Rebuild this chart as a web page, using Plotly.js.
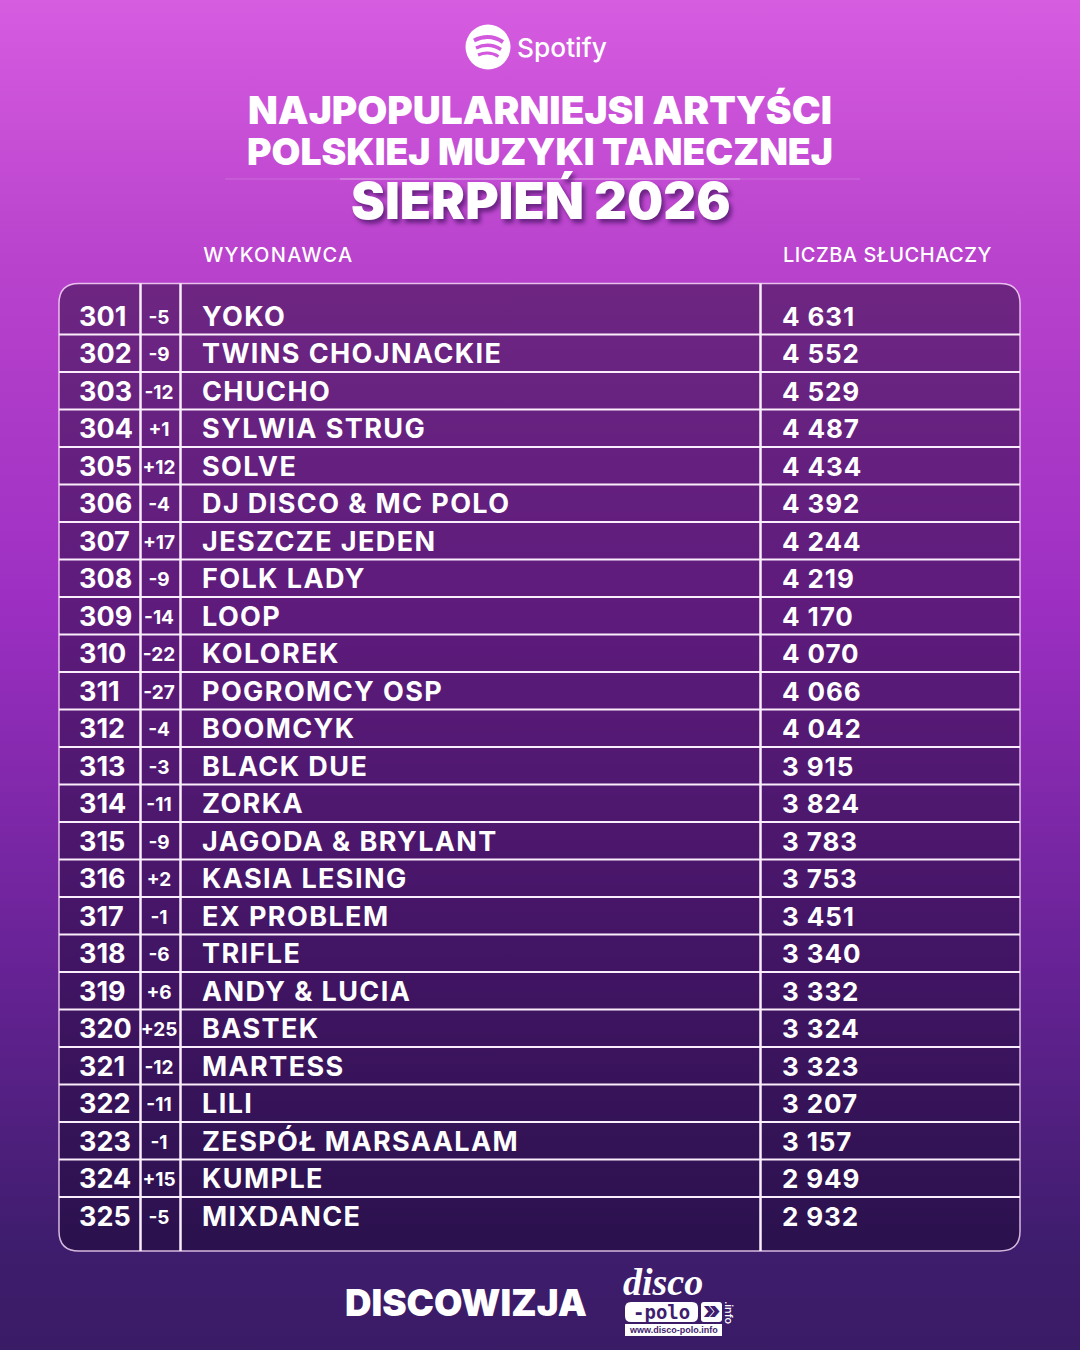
<!DOCTYPE html>
<html>
<head>
<meta charset="utf-8">
<script src="https://cdn.plot.ly/plotly-3.0.1.min.js"></script>
<style>
  html, body { margin: 0; padding: 0; }
  body {
    width: 1080px; height: 1350px; overflow: hidden;
    background: linear-gradient(180deg, #d65ce0 0%, #b842cc 20%, #9c2fc2 45%, #6a2398 70%, #3f1d6e 92%, #3a1b66 100%);
  }
  /* the reference face is wider than Inter, so the table text gets some tracking */
  .scatterlayer .trace:nth-child(3) .textpoint text { letter-spacing: 1.4px; }
  .scatterlayer .trace:nth-child(4) .textpoint text { letter-spacing: 0.9px; }
  .annotation[data-index="4"] text { letter-spacing: 1.3px; }
  .annotation[data-index="5"] text { letter-spacing: 0.5px; }
  .annotation[data-index="7"] text, .annotation[data-index="7"] tspan { font-style: italic !important; }
</style>
</head>
<body>
<div id="chart"></div>
<script>
var ranks = [301, 302, 303, 304, 305, 306, 307, 308, 309, 310, 311, 312, 313, 314, 315, 316, 317, 318, 319, 320, 321, 322, 323, 324, 325];
var changes = ["-5", "-9", "-12", "+1", "+12", "-4", "+17", "-9", "-14", "-22", "-27", "-4", "-3", "-11", "-9", "+2", "-1", "-6", "+6", "+25", "-12", "-11", "-1", "+15", "-5"];
var artists = ["YOKO", "TWINS CHOJNACKIE", "CHUCHO", "SYLWIA STRUG", "SOLVE", "DJ DISCO & MC POLO", "JESZCZE JEDEN", "FOLK LADY", "LOOP", "KOLOREK", "POGROMCY OSP", "BOOMCYK", "BLACK DUE", "ZORKA", "JAGODA & BRYLANT", "KASIA LESING", "EX PROBLEM", "TRIFLE", "ANDY & LUCIA", "BASTEK", "MARTESS", "LILI", "ZESPÓŁ MARSAALAM", "KUMPLE", "MIXDANCE"];
var listeners = ["4 631", "4 552", "4 529", "4 487", "4 434", "4 392", "4 244", "4 219", "4 170", "4 070", "4 066", "4 042", "3 915", "3 824", "3 783", "3 753", "3 451", "3 340", "3 332", "3 324", "3 323", "3 207", "3 157", "2 949", "2 932"];

var FONT = "Inter, sans-serif";
var W = 1080, H = 1350;
var ROW = 37.5;
var RANK_TOP = 319.2;      // pixel of rank 301 on the y axis
var LINE_OFFSET = 0.408;   // separator below a rank, in rank units

// y pixel (from the top) -> paper fraction
function py(px) { return 1 - px / H; }

function column(x, labels, size, position) {
  return {
    type: "scatter",
    mode: "text",
    x: ranks.map(function () { return x; }),
    y: ranks,
    text: labels,
    textposition: position,
    textfont: { family: FONT, size: size, color: "#ffffff", weight: 700 },
    cliponaxis: false,
    hoverinfo: "skip",
    showlegend: false
  };
}

var traces = [
  column(79, ranks.map(String), 27, "middle right"),
  column(159, changes, 19, "middle center"),
  column(202, artists, 27, "middle right"),
  column(782, listeners, 26, "middle right")
];

function label(x, y, text, size, weight, extra) {
  var a = {
    xref: "x", yref: "paper", x: x, y: py(y), text: text, showarrow: false,
    xanchor: "center", yanchor: "middle",
    font: { family: FONT, size: size, color: "#ffffff", weight: weight }
  };
  for (var k in extra) a[k] = extra[k];
  return a;
}

var annotations = [
  label(562, 47, "Spotify", 26.3, 500),
  label(540, 109.5, "NAJPOPULARNIEJSI ARTYŚCI", 38.8, 900),
  label(540, 152, "POLSKIEJ MUZYKI TANECZNEJ", 37.3, 900),
  label(541, 201, "SIERPIEŃ 2026", 51, 900, {
    font: { family: FONT, size: 51, color: "#ffffff", weight: 900, shadow: "3px 4px 4px rgba(50,10,80,0.6)" }
  }),
  label(207, 255, "WYKONAWCA", 20, 500, { xanchor: "left" }),
  label(785, 255, "LICZBA SŁUCHACZY", 20, 500, { xanchor: "left" }),
  label(466, 1302, "DISCOWIZJA", 36.7, 900),
  label(663, 1282, "<i>disco</i>", 38, 700, {
    font: { family: "Liberation Serif", size: 38, color: "#ffffff", weight: 700 }
  }),
  label(661, 1312, "-polo", 19, 700, {
    font: { family: "DejaVu Sans Mono", size: 19, color: "#3f1d6e", weight: 700 }
  }),
  label(711.5, 1310, "»", 24, 900, { font: { family: FONT, size: 24, color: "#3f1d6e", weight: 900 } }),
  label(673, 1330, "www.disco-polo.info", 9, 700, {
    font: { family: "Liberation Sans", size: 9, color: "#3f1d6e", weight: 700 }
  }),
  label(729, 1313, ".info", 11, 500, { textangle: 90 })
];

function roundedRect(x0, y0, x1, y1, r) {
  return "M " + (x0 + r) + " " + py(y0) +
    " L " + (x1 - r) + " " + py(y0) + " Q " + x1 + " " + py(y0) + " " + x1 + " " + py(y0 + r) +
    " L " + x1 + " " + py(y1 - r) + " Q " + x1 + " " + py(y1) + " " + (x1 - r) + " " + py(y1) +
    " L " + (x0 + r) + " " + py(y1) + " Q " + x0 + " " + py(y1) + " " + x0 + " " + py(y1 - r) +
    " L " + x0 + " " + py(y0 + r) + " Q " + x0 + " " + py(y0) + " " + (x0 + r) + " " + py(y0) + " Z";
}

var shapes = [
  // panel
  {
    type: "path", xref: "x", yref: "paper", path: roundedRect(59, 283.5, 1020, 1251, 20),
    fillcolor: "rgba(20,5,40,0.45)", line: { color: "rgba(255,225,255,0.8)", width: 1.5 }, layer: "below"
  },
  // rule under the title, fading out to the sides
  {
    type: "line", xref: "x", yref: "paper", x0: 225, x1: 860, y0: py(179), y1: py(179),
    line: { color: "rgba(255,255,255,0.12)", width: 1.5 }, layer: "below"
  },
  {
    type: "line", xref: "x", yref: "paper", x0: 340, x1: 740, y0: py(179), y1: py(179),
    line: { color: "rgba(255,255,255,0.25)", width: 1.5 }, layer: "below"
  },
  // spotify logo
  {
    type: "circle", xref: "x", yref: "paper", x0: 465.5, x1: 510.5, y0: py(24.5), y1: py(69.5),
    fillcolor: "#ffffff", line: { width: 0 }
  },
  // disco-polo logo boxes
  {
    type: "path", xref: "x", yref: "paper", path: roundedRect(625, 1302, 698, 1322, 6),
    fillcolor: "#ffffff", line: { width: 0 }
  },
  {
    type: "path", xref: "x", yref: "paper", path: roundedRect(701, 1302, 722, 1322, 3),
    fillcolor: "#ffffff", line: { width: 0 }
  },
  {
    type: "rect", xref: "x", yref: "paper", x0: 625, x1: 722, y0: py(1324), y1: py(1336),
    fillcolor: "#ffffff", line: { width: 0 }
  }
];

// spotify arcs
[[474, 40.5, 489, 33, 503, 42, 4], [476, 48, 489, 42, 501, 49.5, 3.5], [478, 55, 489, 50.5, 498.5, 56.5, 3]].forEach(function (a) {
  shapes.push({
    type: "path", xref: "x", yref: "paper",
    path: "M " + a[0] + " " + py(a[1]) + " Q " + a[2] + " " + py(a[3]) + " " + a[4] + " " + py(a[5]),
    line: { color: "#d258dd", width: a[6] }
  });
});

// row separators, drawn on the rank axis
ranks.slice(0, -1).forEach(function (r) {
  shapes.push({
    type: "line", xref: "x", yref: "y", x0: 59, x1: 1020, y0: r + LINE_OFFSET, y1: r + LINE_OFFSET,
    line: { color: "#fbeefc", width: 2 }
  });
});

// column dividers
[140.5, 180.5, 760.5].forEach(function (x) {
  shapes.push({
    type: "line", xref: "x", yref: "paper", x0: x, x1: x, y0: py(283.5), y1: py(1251),
    line: { color: "#fbeefc", width: 2.5 }
  });
});

var layout = {
  width: W,
  height: H,
  margin: { l: 0, r: 0, t: 0, b: 0 },
  paper_bgcolor: "rgba(0,0,0,0)",
  plot_bgcolor: "rgba(0,0,0,0)",
  showlegend: false,
  xaxis: { range: [0, W], visible: false, fixedrange: true },
  yaxis: { range: [301 + (H - RANK_TOP) / ROW, 301 - RANK_TOP / ROW], visible: false, fixedrange: true },
  shapes: shapes,
  annotations: annotations
};

Plotly.newPlot("chart", traces, layout, { displayModeBar: false, staticPlot: true });
</script>
</body>
</html>
